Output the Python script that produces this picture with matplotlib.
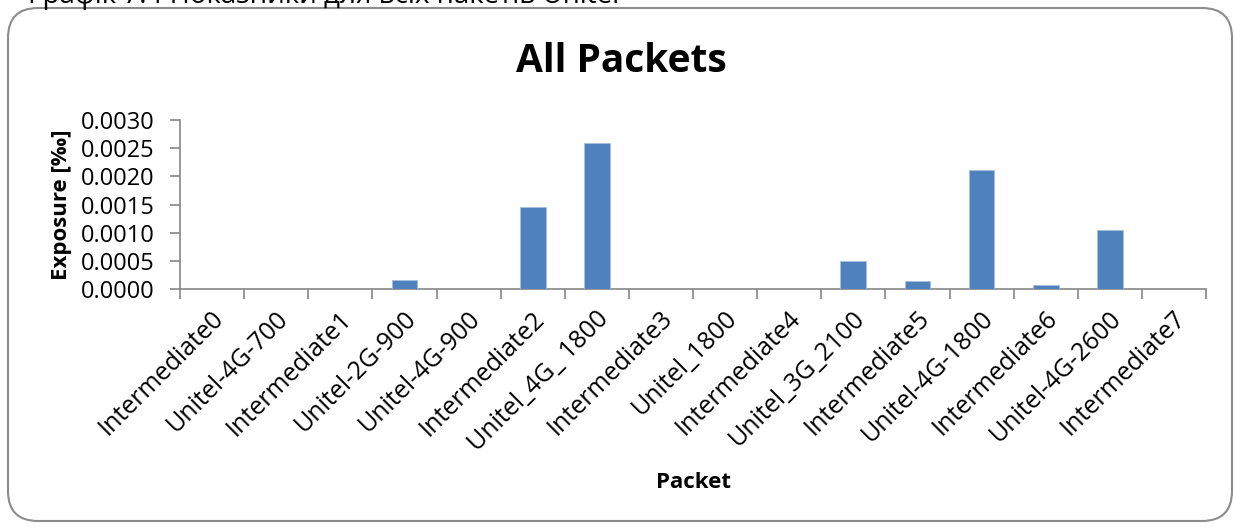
import matplotlib

matplotlib.use("Agg")
import matplotlib.pyplot as plt
from matplotlib.patches import FancyBboxPatch
from matplotlib.transforms import ScaledTranslation

packets = [
    "Intermediate0", "Unitel-4G-700", "Intermediate1", "Unitel-2G-900",
    "Unitel-4G-900", "Intermediate2", "Unitel_4G_ 1800", "Intermediate3",
    "Unitel_1800", "Intermediate4", "Unitel_3G_2100", "Intermediate5",
    "Unitel-4G-1800", "Intermediate6", "Unitel-4G-2600", "Intermediate7",
]
exposure = [
    0.0, 0.0, 0.0, 0.000165,
    0.0, 0.00145, 0.0026, 0.0,
    0.0, 0.0, 0.0005, 0.000135,
    0.00211, 0.00007, 0.00104, 0.0,
]
yticks = [0.0, 0.0005, 0.0010, 0.0015, 0.0020, 0.0025, 0.0030]

FONT = ["Open Sans", "DejaVu Sans"]
plt.rcParams["font.family"] = FONT
GRAY = "#868686"

W, H, DPI = 1234, 526, 100
fig = plt.figure(figsize=(W / DPI, H / DPI), dpi=DPI)

# cropped caption line at the very top of the page
fig.text(28 / W, 1 - 2.5 / H, "Графік 7.4 Показники для всіх пакетів Unitel",
         fontsize=20, va="baseline", ha="left", color="black")

# rounded chart frame
frame = FancyBboxPatch((0.08, 0.05), 12.24, 5.13,
                       boxstyle="round,pad=0,rounding_size=0.3",
                       transform=fig.dpi_scale_trans, facecolor="none",
                       edgecolor="#8c8c8c", linewidth=1.5)
fig.patches.append(frame)

ax = fig.add_axes([180 / W, (H - 289) / H, 1026 / W, 169 / H])
x = list(range(len(packets)))
ax.bar(x, exposure, width=0.4, color="#4F81BD", edgecolor="#A7BFDE",
       linewidth=0.6, zorder=3)

ax.set_xlim(-0.5, len(packets) - 0.5)
ax.set_ylim(0, 0.003)
ax.set_yticks(yticks, labels=[f"{v:.4f}" for v in yticks], fontsize=17)
ax.tick_params(axis="y", pad=11)

# Excel style: tick marks between categories, labels at the centres
ax.set_xticks([i - 0.5 for i in range(len(packets) + 1)], labels=[])
ax.set_xticks(x, labels=packets, minor=True, fontsize=18)
ax.tick_params(axis="x", which="minor", length=0, pad=0)
ax.tick_params(axis="both", which="major", length=7, width=1.2, color=GRAY,
               direction="out")
offset = ScaledTranslation(8 / DPI, -26 / DPI, fig.dpi_scale_trans)
for lbl in ax.get_xticklabels(minor=True):
    lbl.set_rotation(45)
    lbl.set_ha("right")
    lbl.set_va("center")
    lbl.set_rotation_mode("anchor")
    lbl.set_transform(lbl.get_transform() + offset)

for side in ("top", "right"):
    ax.spines[side].set_visible(False)
for side in ("left", "bottom"):
    ax.spines[side].set_color(GRAY)
    ax.spines[side].set_linewidth(1.2)

fig.text(621 / W, 1 - 61 / H, "All Packets", fontsize=28, fontweight="bold",
         ha="center", va="center")
fig.text(62 / W, 1 - 205 / H, "Exposure [‰]", fontsize=16, fontweight="bold",
         rotation=90, ha="center", va="center")
fig.text(693 / W, 1 - 483 / H, "Packet", fontsize=16, fontweight="bold",
         ha="center", va="center")

fig.savefig("out.png", dpi=DPI)
plt.close(fig)
